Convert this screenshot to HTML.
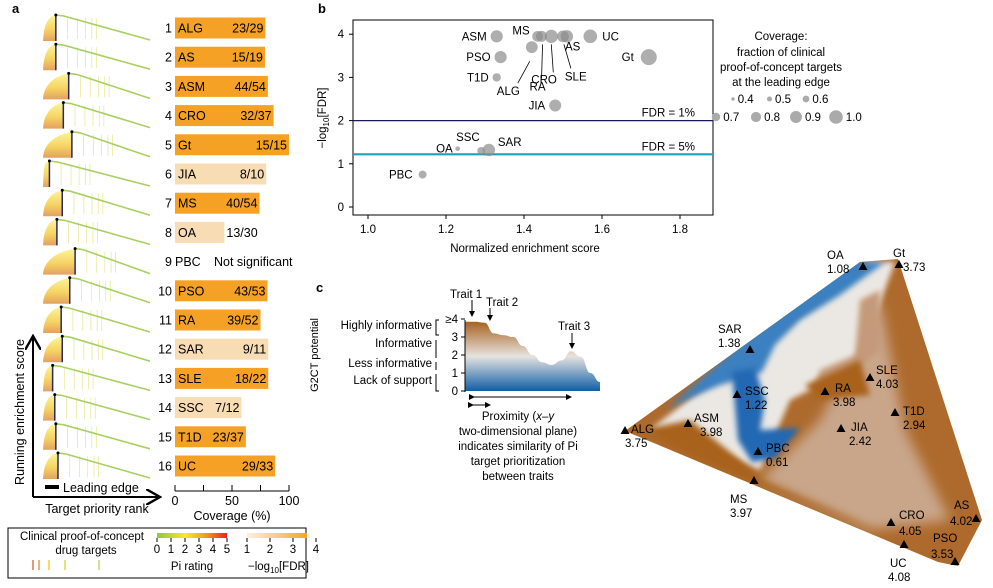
<!DOCTYPE html>
<html><head><meta charset="utf-8">
<style>
body{margin:0;background:#fff;}
svg{display:block;font-family:"Liberation Sans",Arial,sans-serif;}
</style></head>
<body>
<svg id="fig" width="993" height="588" viewBox="0 0 993 588" xmlns="http://www.w3.org/2000/svg">
<defs>
 <linearGradient id="rise" x1="0" y1="1" x2="0" y2="0">
  <stop offset="0" stop-color="#d9822b"/><stop offset="0.45" stop-color="#f3c630"/><stop offset="1" stop-color="#f7f27a"/>
 </linearGradient>
 <linearGradient id="piGrad" x1="0" x2="1"><stop offset="0" stop-color="#8fc73e"/><stop offset="0.4" stop-color="#f4ea2a"/><stop offset="0.7" stop-color="#f39a1e"/><stop offset="1" stop-color="#e8261f"/></linearGradient>
 <linearGradient id="fdrGrad" x1="0" x2="1"><stop offset="0" stop-color="#fdf1e1"/><stop offset="1" stop-color="#f6a32a"/></linearGradient>
 <linearGradient id="g2ct" x1="0" y1="0" x2="0" y2="1"><stop offset="0" stop-color="#a8621f"/><stop offset="0.5" stop-color="#e6e3df"/><stop offset="1" stop-color="#0f5ea8"/></linearGradient>
 <filter id="blur" x="-20%" y="-20%" width="140%" height="140%"><feGaussianBlur stdDeviation="6"/></filter>
 <filter id="blur2" x="-20%" y="-20%" width="140%" height="140%"><feGaussianBlur stdDeviation="3"/></filter>
 <clipPath id="triClip"><polygon points="860,262 898,259 982,520 958,566 938,562 625,431"/></clipPath>
 <marker id="arr" markerWidth="8" markerHeight="8" refX="6" refY="4" orient="auto"><path d="M0,0 L7,4 L0,8" fill="none" stroke="#000" stroke-width="1.2"/></marker>
 <marker id="sarr" markerWidth="6" markerHeight="6" refX="5" refY="3" orient="auto"><path d="M0,0 L6,3 L0,6 z" fill="#000"/></marker>
</defs>

<text x="12" y="13" font-size="13" font-weight="bold">a</text>
<text x="318" y="13" font-size="13" font-weight="bold">b</text>
<text x="316" y="292" font-size="13" font-weight="bold">c</text>

<g id="panelA"></g>

<g>
 <line x1="33" y1="497" x2="33" y2="338" stroke="#000" stroke-width="2" marker-end="url(#arr)"/>
 <line x1="33" y1="497" x2="158" y2="497" stroke="#000" stroke-width="2" marker-end="url(#arr)"/>
 <text transform="translate(24,412) rotate(-90)" text-anchor="middle" font-size="12.5">Running enrichment score</text>
 <text x="97" y="513" text-anchor="middle" font-size="12.5">Target priority rank</text>
 <rect x="45" y="485" width="14" height="4" fill="#000"/>
 <text x="63" y="492" font-size="12.5">Leading edge</text>
</g>
<g>
 <line x1="175" y1="491" x2="289" y2="491" stroke="#000"/>
 <g id="covTicks"></g>
 <text x="232" y="520" text-anchor="middle" font-size="12.5">Coverage (%)</text>
</g>

<g>
 <rect x="8" y="528" width="298" height="50" fill="none" stroke="#000"/>
 <text x="82" y="540" text-anchor="middle" font-size="11.5">Clinical proof-of-concept</text>
 <text x="86" y="554" text-anchor="middle" font-size="11.5">drug targets</text>
 <g stroke-width="1.3"><line x1="33" y1="560" x2="33" y2="570" stroke="#d7642a"/><line x1="39" y1="560" x2="39" y2="570" stroke="#e8892a"/><line x1="49" y1="560" x2="49" y2="570" stroke="#f2c21e"/><line x1="65" y1="560" x2="65" y2="570" stroke="#d9d43a"/><line x1="99" y1="560" x2="99" y2="570" stroke="#b9cf5a"/></g>
 <rect x="157" y="533" width="70" height="5" fill="url(#piGrad)"/>
 <g id="piTicks"></g>
 <text x="192" y="570" text-anchor="middle" font-size="11.5">Pi rating</text>
 <rect x="247" y="533" width="60" height="5" fill="url(#fdrGrad)"/>
 <g id="fdrTicks"></g>
 <text x="248" y="570" font-size="11.5">−log<tspan font-size="8" dy="3">10</tspan><tspan dy="-3">[FDR]</tspan></text>
</g>

<g id="panelB">
 <rect x="353" y="20" width="360" height="195" fill="none" stroke="#000"/>
 <text transform="translate(326,118) rotate(-90)" text-anchor="middle" font-size="11.5">−log<tspan font-size="8" dy="3">10</tspan><tspan dy="-3">[FDR]</tspan></text>
 <text x="525" y="252" text-anchor="middle" font-size="11.5">Normalized enrichment score</text>
</g>

<g font-size="11.5" text-anchor="middle">
 <text x="781" y="40">Coverage:</text>
 <text x="781" y="56">fraction of clinical</text>
 <text x="781" y="71">proof-of-concept targets</text>
 <text x="781" y="86">at the leading edge</text>
 <g id="sizeLegend" text-anchor="start"></g>
</g>

<g font-size="11.5">
 <text transform="translate(318,355) rotate(-90)" text-anchor="middle" font-size="11">G2CT potential</text>
 <path id="g2ctArea" d="" fill="url(#g2ct)"/>
 <line x1="465" y1="320" x2="465" y2="392" stroke="#000"/>
 <g id="g2ctTicks" text-anchor="end"></g>
 <g text-anchor="end">
  <text x="432" y="329">Highly informative</text><text x="432" y="347">Informative</text>
  <text x="432" y="367">Less informative</text><text x="432" y="384">Lack of support</text>
 </g>
 <path d="M439,320 H436 V335 H439 M436,340 V358 M436,362 V370 M436,374 V391 H439" fill="none" stroke="#000"/>
 <text x="450" y="298">Trait 1</text><text x="486" y="306">Trait 2</text><text x="558" y="330">Trait 3</text>
 <line x1="472" y1="300" x2="472" y2="316" stroke="#000" marker-end="url(#sarr)"/>
 <line x1="490" y1="308" x2="490" y2="320" stroke="#000" marker-end="url(#sarr)"/>
 <line x1="572" y1="333" x2="572" y2="348" stroke="#000" marker-end="url(#sarr)"/>
 <line x1="474" y1="397" x2="571" y2="397" stroke="#000" marker-start="url(#sarr)" marker-end="url(#sarr)"/>
 <line x1="473" y1="405" x2="490" y2="405" stroke="#000" marker-start="url(#sarr)" marker-end="url(#sarr)"/>
 <g text-anchor="middle">
  <text x="518" y="420">Proximity (<tspan font-style="italic">x</tspan>–<tspan font-style="italic">y</tspan></text>
  <text x="518" y="435">two-dimensional plane)</text>
  <text x="518" y="450">indicates similarity of Pi</text>
  <text x="518" y="465">target prioritization</text>
  <text x="518" y="480">between traits</text>
 </g>
</g>

<g>
 <g clip-path="url(#triClip)">
  <rect x="600" y="250" width="393" height="330" fill="#ad6a2c"/>
  <polygon points="880,300 905,430 950,520 870,530 760,480 820,420" fill="#c9a68a" filter="url(#blur)"/>
  <polygon points="870,262 895,262 870,330 850,370 790,400 760,470 690,440 650,430 700,390" fill="#ebe8e4" filter="url(#blur2)"/>
  <polygon points="850,262 885,262 840,295 800,320 775,345 762,372 745,378 720,385 690,398 665,410 700,380 740,345 800,300" fill="#3b80c0" filter="url(#blur2)"/>
  <polygon points="732,372 755,368 765,400 760,430 800,428 775,458 752,462 738,440" fill="#2068b2" filter="url(#blur2)"/>
  <polygon points="860,300 880,290 880,350 850,375 815,385 820,370 855,355" fill="#c49a7a" filter="url(#blur2)"/>
  <polygon points="805,385 860,360 870,395 820,400" fill="#a9621f" filter="url(#blur2)"/>
  <polygon points="640,430 690,420 740,460 760,480 900,540 700,460" fill="#a9621f" filter="url(#blur2)"/>
 </g>
 <g id="traitMarks"></g>
</g>
</svg>

<script>
// ---------- Panel A data ----------
const aNames=["ALG","AS","ASM","CRO","Gt","JIA","MS","OA","PBC","PSO","RA","SAR","SLE","SSC","T1D","UC"];
const aHits=[23,15,44,32,15,8,40,13,null,43,39,9,18,7,23,29];
const aTotals=[29,19,54,37,15,10,54,30,null,53,52,11,22,12,37,33];
const aStrong=[1,1,1,1,1,0,1,0,0,1,1,0,1,0,1,1];
const aPeakRank=[0.12,0.12,0.24,0.19,0.27,0.06,0.18,0.13,0.30,0.25,0.17,0.18,0.09,0.11,0.12,0.14];
const covTickVals=[0,25,50,75,100];
const NS="http://www.w3.org/2000/svg";
function mk(tag,attrs,parent,txt){const e=document.createElementNS(NS,tag);for(const k in attrs)e.setAttribute(k,attrs[k]);if(txt!==undefined)e.textContent=txt;parent.appendChild(e);return e;}
const covX=v=>175+v*1.14;
const rankX=r=>43+r*107;
const rowY=i=>28+i*29.2;
const pA=document.getElementById('panelA');
aNames.forEach((n,i)=>{
  const cy=rowY(i);const g=mk('g',{},pA);
  
  
  const top=cy-13,bot=cy+13,px=rankX(aPeakRank[i]);
  const fill=mk('path',{d:`M43,${bot} C44,${top+6} ${px-6},${top+1} ${px},${top} L${px},${bot} Z`,fill:'url(#rise)',opacity:0.75},g);
  
  
  for(let k=1;k<6;k++){const hx=px+k*(14-k)*0.9;mk('line',{x1:hx,y1:top+3,x2:hx,y2:bot-2,stroke:'#e8ea9a','stroke-width':0.8},g);}
  const ln=mk('path',{d:`M${px},${top} L${px+8},${top+1} L150,${bot-1}`,fill:'none',stroke:'#a8d060','stroke-width':1.6},g);
  
  
  mk('line',{x1:px,y1:top,x2:px,y2:bot,stroke:'#2c2a5a','stroke-width':1.5},g);
  mk('circle',{cx:px,cy:top,r:1.5,fill:'#000'},g);
  mk('text',{x:172,y:cy+4.5,'text-anchor':'end','font-size':12.5},g,String(i+1));
  if(aHits[i]===null){
    mk('text',{x:175,y:cy+4.5,'font-size':12.5},g,n);
    mk('text',{x:214,y:cy+4.5,'font-size':12.5},g,'Not significant');
  } else {
    const cov=100*aHits[i]/aTotals[i];
    const b=mk('rect',{x:175,y:cy-10.5,width:covX(cov)-175,height:21,fill:aStrong[i]?'#f5a125':'#f8dcb4'},g);
    
    
    mk('text',{x:178,y:cy+4.5,'font-size':12.5},g,n);
    const lab=aHits[i]+'/'+aTotals[i];
    if(cov<50) mk('text',{x:covX(cov)+2,y:cy+4.5,'font-size':12.5},g,lab);
    else mk('text',{x:covX(cov)-2,y:cy+4.5,'font-size':12.5,'text-anchor':'end'},g,lab);
  }
});
const ct=document.getElementById('covTicks');
covTickVals.forEach(v=>{mk('line',{x1:covX(v),y1:491,x2:covX(v),y2:485,stroke:'#000'},ct);if(v%50===0)mk('text',{x:covX(v),y:505,'text-anchor':'middle','font-size':12.5},ct,String(v));});
const piTickVals=[0,1,2,3,4,5];
const pt=document.getElementById('piTicks');
piTickVals.forEach(v=>{const x=157+v*14;mk('line',{x1:x,y1:538,x2:x,y2:542,stroke:'#000'},pt);mk('text',{x:x,y:553,'text-anchor':'middle','font-size':11.5},pt,String(v));});
const fdrTickVals=[1,2,3,4];
const ft=document.getElementById('fdrTicks');
fdrTickVals.forEach(v=>{const x=247+(v-1)*23;mk('line',{x1:x,y1:538,x2:x,y2:542,stroke:'#000'},ft);mk('text',{x:x,y:553,'text-anchor':'middle','font-size':11.5},ft,String(v));});

// ---------- Panel B data ----------
const bNames=["ASM","PSO","T1D","MS","ALG","RA","CRO","SLE","AS","UC","Gt","JIA","OA","SSC","SAR","PBC"];
const bNES=[1.33,1.34,1.33,1.435,1.42,1.445,1.47,1.51,1.50,1.57,1.72,1.48,1.23,1.29,1.31,1.14];
const bFDR=[3.95,3.47,3.0,3.95,3.7,3.95,3.95,3.95,3.95,3.95,3.47,2.35,1.35,1.3,1.32,0.75];
const bCov=[0.81,0.81,0.62,0.74,0.79,0.75,0.86,0.82,0.79,0.88,1.0,0.8,0.43,0.58,0.82,0.6];
const bXTicks=[1.0,1.2,1.4,1.6,1.8];
const bYTicks=[0,1,2,3,4];
const fdrLines=[2,1.22];
const bx=v=>368+(v-1)*390, by=v=>207-v*43.2, br=c=>2+(c-0.4)*10;
const pB=document.getElementById('panelB');
bXTicks.forEach(v=>{mk('line',{x1:bx(v),y1:215,x2:bx(v),y2:219,stroke:'#000'},pB);mk('text',{x:bx(v),y:233,'text-anchor':'middle','font-size':11.5},pB,v.toFixed(1));});
bYTicks.forEach(v=>{mk('line',{x1:349,y1:by(v),x2:353,y2:by(v),stroke:'#000'},pB);mk('text',{x:344,y:by(v)+4,'text-anchor':'end','font-size':11.5},pB,String(v));});
const l1=mk('line',{x1:353,y1:by(fdrLines[0]),x2:713,y2:by(fdrLines[0]),stroke:'#1a1a5e','stroke-width':1.2},pB);


const l5=mk('line',{x1:353,y1:by(fdrLines[1]),x2:713,y2:by(fdrLines[1]),stroke:'#1ba0b5','stroke-width':2.2},pB);


mk('text',{x:695,y:by(fdrLines[0])-4,'text-anchor':'end','font-size':11.5},pB,'FDR = 1%');
mk('text',{x:695,y:by(fdrLines[1])-4,'text-anchor':'end','font-size':11.5},pB,'FDR = 5%');
const labOff={ASM:[-10,4,'end'],PSO:[-10,4,'end'],T1D:[-8,4,'end'],MS:[-8,-2,'end'],ALG:[-35,48,'start'],RA:[-12,54,'start'],CRO:[-20,47,'start'],SLE:[-2,44,'start'],AS:[2,14,'start'],UC:[12,4,'start'],Gt:[-15,4,'end'],JIA:[-10,4,'end'],OA:[-5,4,'end'],SSC:[-25,-10,'start'],SAR:[9,-4,'start'],PBC:[-10,4,'end']};
bNames.forEach((n,i)=>{
  const c=mk('circle',{cx:bx(bNES[i]),cy:by(bFDR[i]),r:br(bCov[i]),fill:'#8c8c8c','fill-opacity':0.7},pB);
  
  
  const o=labOff[n];
  mk('text',{x:bx(bNES[i])+o[0],y:by(bFDR[i])+o[1],'text-anchor':o[2],'font-size':11.5},pB,n);
});
[["ALG",[-2,14],[-14,36]],["RA",[1,8],[0,42]],["CRO",[0,8],[2,36]],["SLE",[-3,8],[4,32]]].forEach(d=>{const i=bNames.indexOf(d[0]);const x=bx(bNES[i]),y=by(bFDR[i]);mk('line',{x1:x+d[1][0],y1:y+d[1][1],x2:x+d[2][0],y2:y+d[2][1],stroke:'#000','stroke-width':0.8},pB);});
const sizeVals=[0.4,0.5,0.6,0.7,0.8,0.9,1.0];
const sl=document.getElementById('sizeLegend');
sizeVals.forEach((v,i)=>{const row=i>=3?1:0;const x=row?716+(i-3)*40:733+i*36.5;const y=row?121:103;const r=br(v)*0.85;mk('circle',{cx:x,cy:y-4,r:r,fill:'#aaa'},sl);mk('text',{x:x+r+3,y:y,'font-size':11.5},sl,v.toFixed(1));});

// ---------- Panel C schematic ----------
const g2ctVals=[3.85,3.85,3.8,3.2,3.1,3.0,2.5,2.0,1.6,1.45,1.7,2.2,1.9,1.0,0.5];
const g2ctTickVals=[0,1,2,3,4];
const gx=i=>465+i*(135/(g2ctVals.length-1)), gy=v=>391-v*18;
let d=`M465,391 L465,${gy(g2ctVals[0])}`;
for(let i=1;i<g2ctVals.length;i++){const x0=gx(i-1),x1=gx(i);d+=` C${(x0+x1)/2},${gy(g2ctVals[i-1])} ${(x0+x1)/2},${gy(g2ctVals[i])} ${x1},${gy(g2ctVals[i])}`;}
d+=` L600,391 Z`;
document.getElementById('g2ctArea').setAttribute('d',d);
const gt=document.getElementById('g2ctTicks');
g2ctTickVals.forEach(v=>{mk('line',{x1:461,y1:gy(v),x2:465,y2:gy(v),stroke:'#000'},gt);mk('text',{x:458,y:gy(v)+4,'font-size':11.5},gt,v===4?'≥4':String(v));});

// ---------- Panel C map ----------
const cNames=["OA","Gt","SAR","SLE","RA","SSC","T1D","ALG","ASM","JIA","PBC","MS","CRO","AS","PSO","UC"];
const cVal=[1.08,3.73,1.38,4.03,3.98,1.22,2.94,3.75,3.98,2.42,0.61,3.97,4.05,4.02,3.53,4.08];
const cPx=[863,899,750,870,825,737,895,625,688,841,758,754,891,976,955,904];
const cPy=[267,265,350,378,392,395,413,431,424,429,452,481,523,519,562,545];
const cLab={OA:[-36,-8,-36,6],Gt:[-6,-8,4,6],SAR:[-32,-17,-32,-3],SLE:[6,-4,6,10],RA:[10,0,8,14],SSC:[8,0,8,14],T1D:[8,2,8,16],ALG:[6,2,0,16],ASM:[6,-2,12,12],JIA:[10,2,8,16],PBC:[8,0,8,14],MS:[-24,22,-24,36],CRO:[8,-4,8,12],AS:[-22,-10,-26,6],PSO:[-22,-20,-24,-4],UC:[-14,22,-16,36]};
const tm=document.getElementById('traitMarks');
cNames.forEach((n,i)=>{
  const x=cPx[i],y=cPy[i];
  const t=mk('path',{d:`M${x},${y-5} L${x+4.5},${y+3} L${x-4.5},${y+3} Z`,fill:'#000'},tm);
  
  
  const o=cLab[n];
  mk('text',{x:x+o[0],y:y+o[1],'font-size':11.5},tm,n);
  mk('text',{x:x+o[2],y:y+o[3],'font-size':11.5},tm,cVal[i].toFixed(2));
});
</script>
</body></html>
